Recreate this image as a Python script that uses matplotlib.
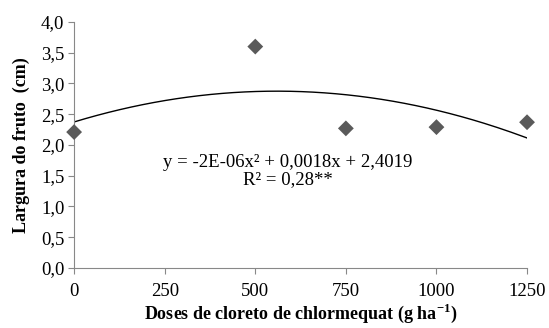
import matplotlib
matplotlib.use("Agg")
import matplotlib.pyplot as plt
import numpy as np

doses = [0, 500, 750, 1000, 1250]
largura = [2.21, 3.60, 2.27, 2.29, 2.37]
xticks = [0, 250, 500, 750, 1000, 1250]
yticks = [0.0, 0.5, 1.0, 1.5, 2.0, 2.5, 3.0, 3.5, 4.0]

plt.rcParams['font.family'] = ['Liberation Serif', 'DejaVu Serif']
plt.rcParams['mathtext.fontset'] = 'custom'
plt.rcParams['mathtext.rm'] = 'Liberation Serif'
plt.rcParams['mathtext.bf'] = 'Liberation Serif:bold'

fig = plt.figure(figsize=(5.49, 3.28), dpi=100)
ax = fig.add_axes([0.135, 0.183, 0.825, 0.75])

coef = np.polyfit(doses, largura, 2)
xs = np.linspace(0, 1250, 200)
ax.plot(xs, np.polyval(coef, xs), color='black', lw=1.0)
ax.scatter(doses, largura, marker='D', s=65, color='#5a5a5a', zorder=3, edgecolors='none', clip_on=False)

ax.set_xlim(0, 1250)
ax.set_ylim(0, 4.0)
ax.set_xticks(xticks)
ax.set_xticklabels([str(t) for t in xticks])
ax.set_yticks(yticks)
ax.set_yticklabels([f"{t:.1f}".replace('.', ',') for t in yticks])
for s in ['top', 'right']:
    ax.spines[s].set_visible(False)
for s in ['left', 'bottom']:
    ax.spines[s].set_color('#888888')
ax.tick_params(axis='both', colors='#888888', labelcolor='black', labelsize=13.5, length=4, width=0.8)
ax.tick_params(axis='x', pad=7)
ax.tick_params(axis='y', pad=3)

ax.text(590, 1.71, "y = -2E-06x² + 0,0018x + 2,4019", ha='center', va='center', fontsize=13.5)
ax.text(590, 1.43, "R² = 0,28**", ha='center', va='center', fontsize=13.5)

ax.set_xlabel(r"Doses de cloreto de chlormequat (g ha$^{\mathbf{-1}}$)", fontsize=13, fontweight='bold', labelpad=1)
ax.set_ylabel("Largura do fruto  (cm)", fontsize=13, fontweight='bold', labelpad=8)

fig.savefig("out.png", dpi=100)
